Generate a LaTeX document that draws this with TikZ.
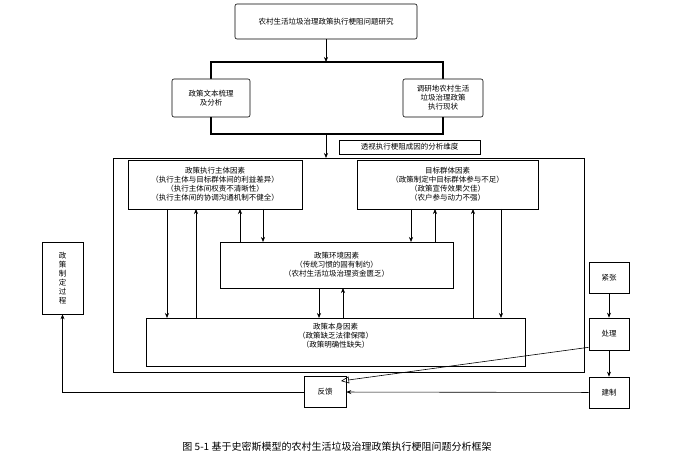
\documentclass[tikz,border=0pt]{standalone}
\usepackage{fontspec}
\setmainfont{Noto Sans CJK SC}
\usetikzlibrary{arrows.meta}
\begin{document}
\begin{tikzpicture}[x=1pt,y=-1pt,
 bx/.style={draw,line width=0.6pt,align=center,inner sep=0pt,font=\fontsize{7.5}{9}\selectfont},
 ar/.style={-{Stealth[length=5pt,width=4pt]},line width=0.6pt},
 ln/.style={line width=0.6pt}]
\useasboundingbox (0,0) rectangle (673,462);
\newcommand{\bxr}[6]{\node[bx,#6,minimum width={#3-#1},minimum height={#4-#2}] (#5) at ({(#1+#3)/2},{(#2+#4)/2}) {};}
\node[bx,rounded corners=2pt,minimum width=182,minimum height=35] (top) at (326,21.5) {农村生活垃圾治理政策执行梗阻问题研究};
\draw[line width=1.2pt] (211,134) |- (443,62) -- (443,134) -- cycle;
\coordinate (bt) at (326,62);
\coordinate (bb) at (326,134);
\node[bx,rounded corners=2pt,fill=white,minimum width=78,minimum height=38] (l) at (211,98) {政策文本梳理\\及分析};
\node[bx,rounded corners=2pt,fill=white,minimum width=80,minimum height=38] (r) at (443,98) {调研地农村生活\\垃圾治理政策\\执行现状};
\draw[ar] (top) -- (bt);
\node[bx,minimum width=141,minimum height=14] (lab) at (409.5,147) {透视执行梗阻成因的分析维度};
\node[bx,minimum width=471,minimum height=214] (big) at (348.5,265) {};
\draw[ar] (bb) -- (326,158);
\node[bx,minimum width=174,minimum height=49] (ex) at (215,184.5) {政策执行主体因素\\（执行主体与目标群体间的利益差异）\\（执行主体间权责不清晰性）\\（执行主体间的协调沟通机制不健全）};
\node[bx,minimum width=181,minimum height=49] (tg) at (447.5,184.5) {目标群体因素\\（政策制定中目标群体参与不足）\\（政策宣传效果欠佳）\\（农户参与动力不强）};
\node[bx,minimum width=233,minimum height=46] (env) at (336.5,265) {政策环境因素\\（传统习惯的固有制约）\\（农村生活垃圾治理资金匮乏）};
\node[bx,minimum width=379,minimum height=48,anchor=north,text depth=30pt] (pol) at (335.5,318) {};
\node[font=\fontsize{7.5}{9}\selectfont,align=center,anchor=north] at (335.5,320) {政策本身因素\\（政策缺乏法律保障）\\（政策明确性缺失）};
\draw[ar] (167,209) -- (167,318);
\draw[ar] (196,318) -- (196,209);
\draw[ar] (240,242) -- (240,209);
\draw[ar] (263,209) -- (263,242);
\draw[ar] (411,209) -- (411,242);
\draw[ar] (435,242) -- (435,209);
\draw[ar] (473,318) -- (473,209);
\draw[ar] (501,209) -- (501,318);
\draw[ar] (319,288) -- (319,318);
\draw[ar] (343,318) -- (343,288);
\node[bx,minimum width=41,minimum height=72] (pp) at (62.5,278) {政\\策\\制\\定\\过\\程};
\node[bx,minimum width=40,minimum height=31] (jz) at (609,277.5) {紧张};
\node[bx,minimum width=40,minimum height=32] (cl) at (609,334) {处理};
\node[bx,minimum width=40,minimum height=31] (jd) at (609,392.5) {建制};
\node[bx,minimum width=42,minimum height=31] (fk) at (325,392) {反馈};
\draw[ar] (jz) -- (cl);
\draw[ar] (cl) -- (jd);
\draw[ar] (jd) -- (fk);
\draw[ln,-{Triangle[open,length=8pt,width=7pt]}] (cl.south west) ++(0,-3) -- (341,381);
\draw[ar] (fk.west) -| (pp.south);
\node[font=\fontsize{10}{12}\selectfont] (cap) at (337,447) {图 5-1 基于史密斯模型的农村生活垃圾治理政策执行梗阻问题分析框架};
\end{tikzpicture}
\end{document}
